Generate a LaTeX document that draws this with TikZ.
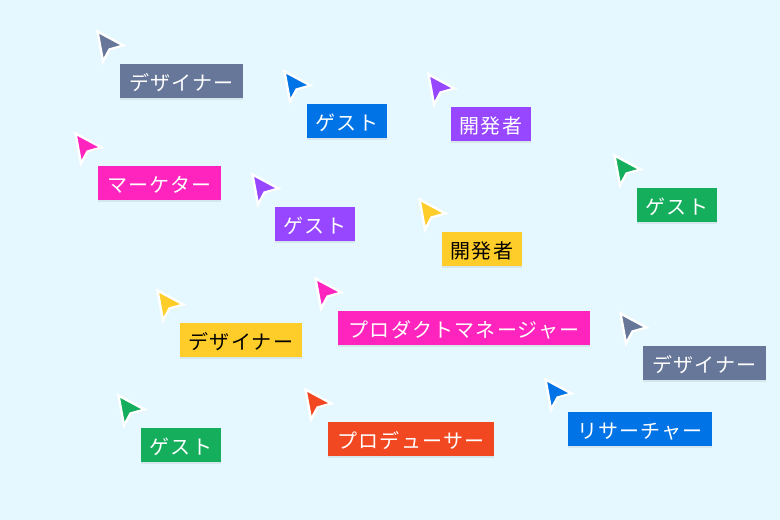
\documentclass[tikz,border=0pt]{standalone}
\usepackage{fontspec}
\setmainfont[LetterSpace=6]{Noto Sans CJK JP}
\usetikzlibrary{shadows}
\definecolor{sky}{HTML}{E5F8FF}
\definecolor{slate}{HTML}{667799}
\definecolor{azure}{HTML}{0073E6}
\definecolor{violet}{HTML}{9747FF}
\definecolor{leaf}{HTML}{14AE5C}
\definecolor{magenta}{HTML}{FF24BD}
\definecolor{amber}{HTML}{FFCD29}
\definecolor{tomato}{HTML}{F24822}
\tikzset{
    pics/cursor/.style={code={
        \path[draw=white, line width=1.8pt, fill=#1,
              drop shadow={shadow xshift=0pt, shadow yshift=-1pt, opacity=0.15}]
            (0.5,1.5)--(26.5,15.5)--(12.5,19.5)--(6,31.5)--cycle;
    }},
}
\begin{document}
\begin{tikzpicture}[
    x=0.75pt, y=-0.75pt,
    tag/.style={rectangle, inner sep=0pt, outer sep=0pt, text=white,
                minimum height=25.5pt, text height=15.4pt, text depth=1.8pt,
                font=\fontsize{15pt}{18pt}\selectfont,
                drop shadow={shadow xshift=0pt, shadow yshift=-1.5pt, opacity=0.15}},
    ]
    \fill[sky] (0,0) rectangle (780,520);

    % top row
    \pic (cursorA) at (97,30) {cursor=slate};
    \node (tagA) [tag, fill=slate, minimum width=92.25pt] at (181.5,81) {デザイナー};
    \pic (cursorB) at (284,70) {cursor=azure};
    \node (tagB) [tag, fill=azure, minimum width=60pt] at (347,121) {ゲスト};
    \pic (cursorC) at (428,73) {cursor=violet};
    \node (tagC) [tag, fill=violet, minimum width=60pt] at (491,124) {開発者};
    \pic (cursorD) at (614,154) {cursor=leaf};
    \node (tagD) [tag, fill=leaf, minimum width=60pt] at (677,205) {ゲスト};
    % middle row
    \pic (cursorE) at (75,132) {cursor=magenta};
    \node (tagE) [tag, fill=magenta, minimum width=92.25pt] at (159.5,183) {マーケター};
    \pic (cursorF) at (252,173) {cursor=violet};
    \node (tagF) [tag, fill=violet, minimum width=60pt] at (315,224) {ゲスト};
    \pic (cursorG) at (419,198) {cursor=amber};
    \node (tagG) [tag, fill=amber, text=black, minimum width=60pt] at (482,249) {開発者};
    \pic (cursorH) at (157,289) {cursor=amber};
    \node (tagH) [tag, fill=amber, text=black, minimum width=91.5pt] at (241,340) {デザイナー};
    \pic (cursorI) at (315,277) {cursor=magenta};
    \node (tagI) [tag, fill=magenta, minimum width=189pt] at (464,328) {プロダクトマネージャー};
    \pic (cursorJ) at (620,312) {cursor=slate};
    \node (tagJ) [tag, fill=slate, minimum width=92.25pt] at (704.5,363) {デザイナー};
    % bottom row
    \pic (cursorK) at (545,378) {cursor=azure};
    \node (tagK) [tag, fill=azure, minimum width=108pt] at (640,429) {リサーチャー};
    \pic (cursorL) at (305,388) {cursor=tomato};
    \node (tagL) [tag, fill=tomato, minimum width=124.5pt] at (411,439) {プロデューサー};
    \pic (cursorM) at (118,394) {cursor=leaf};
    \node (tagM) [tag, fill=leaf, minimum width=60pt] at (181,445) {ゲスト};
\end{tikzpicture}
\end{document}
